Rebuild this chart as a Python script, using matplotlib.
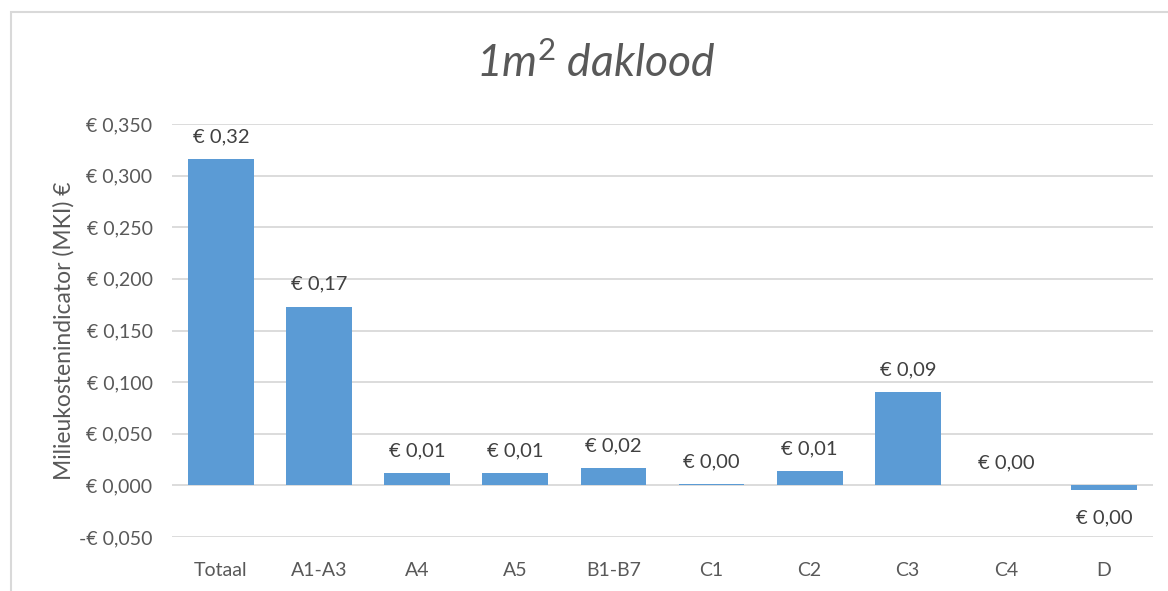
import matplotlib.pyplot as plt
from matplotlib import rcParams
from matplotlib.patches import Rectangle
from matplotlib.ticker import MultipleLocator, FuncFormatter

rcParams['font.family'] = ['Lato', 'DejaVu Sans']
rcParams['mathtext.fontset'] = 'custom'
rcParams['mathtext.it'] = 'Lato:italic'
rcParams['mathtext.rm'] = 'Lato'
rcParams['mathtext.default'] = 'it'

# data
fasen = ['Totaal', 'A1-A3', 'A4', 'A5', 'B1-B7', 'C1', 'C2', 'C3', 'C4', 'D']
mki = [0.316, 0.173, 0.0116, 0.0116, 0.0165, 0.001, 0.0136, 0.090, 0.0002, -0.004]

tekst = '#595959'
blauw = '#5B9BD5'
raster = '#D9D9D9'


def euro(v, decimals):
    s = f'{abs(v):.{decimals}f}'.replace('.', ',')
    if v < 0 and float(s.replace(',', '.')) != 0:
        return '-€ ' + s
    return '€ ' + s


fig = plt.figure(figsize=(11.68, 5.91), dpi=100)

# grijze rand van het grafiekgebied
fig.patches.append(Rectangle((11 / 1168, -0.1), 1.2, 1 - 12 / 591 + 0.1,
                             transform=fig.transFigure, fill=False,
                             edgecolor='#D9D9D9', linewidth=1.5))

ax = fig.add_axes([172 / 1168, 1 - 537 / 591, (1153 - 172) / 1168, (537 - 124) / 591])
x = range(len(fasen))
bars = ax.bar(x, mki, width=0.67, color=blauw, zorder=3)

ax.set_xlim(-0.5, len(fasen) - 0.5)
ax.set_ylim(-0.05, 0.35)
ax.yaxis.set_major_locator(MultipleLocator(0.05))
ax.yaxis.set_major_formatter(FuncFormatter(lambda v, p: euro(round(v, 3), 3)))
ax.grid(axis='y', color=raster, linewidth=1.3, zorder=0)
for s in ax.spines.values():
    s.set_visible(False)
ax.tick_params(length=0, labelsize=14, colors=tekst, pad=14)
ax.tick_params(axis='x', pad=18)
ax.set_xticks(list(x))
ax.set_xticklabels(fasen)

# datalabels
for i, v in enumerate(mki):
    if v >= 0:
        ax.annotate(euro(v, 2), (i, v), xytext=(0, 10), textcoords='offset points',
                    ha='center', va='bottom', fontsize=14.5, color='#404040')
    else:
        ax.annotate(euro(v, 2), (i, v), xytext=(0, -14), textcoords='offset points',
                    ha='center', va='top', fontsize=14.5, color='#404040')

ax.set_ylabel('Milieukostenindicator (MKI) €', fontsize=16.5, color=tekst, labelpad=3)
fig.text(596 / 1168, 1 - 64 / 591, '1m$^{2}$ daklood', ha='center', va='center',
         fontsize=32, style='italic', color=tekst)

fig.savefig('out.png', dpi=100)
